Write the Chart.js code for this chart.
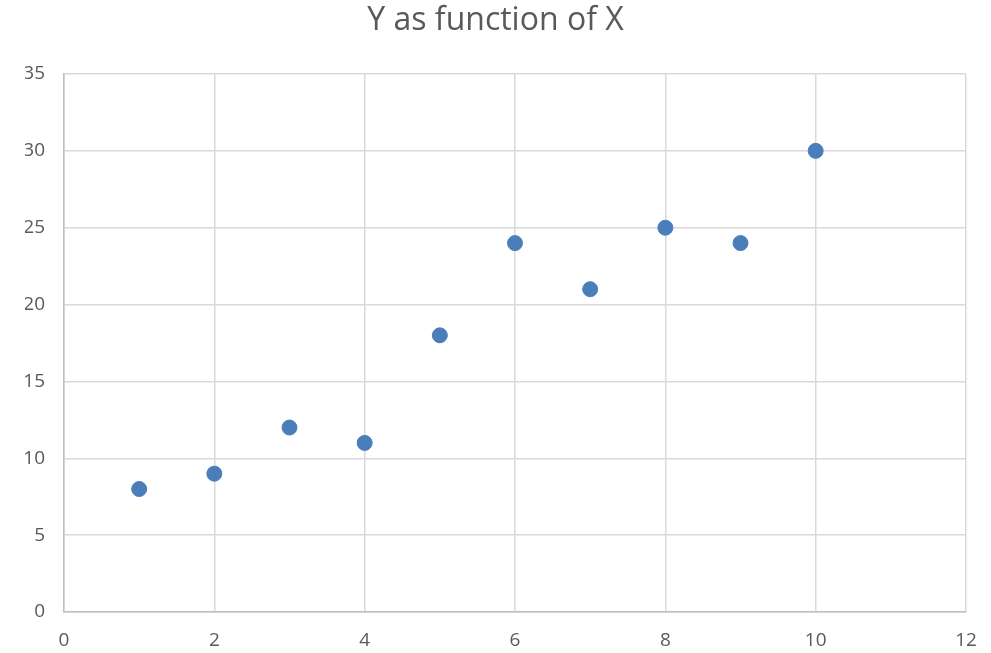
<!DOCTYPE html>
<html>
<head>
<meta charset="utf-8">
<script src="https://cdn.jsdelivr.net/npm/chart.js@4"></script>
<style>
  html, body { margin: 0; padding: 0; background: #ffffff; }
  #wrap { width: 991px; height: 653px; }
</style>
</head>
<body>
<div id="wrap"><canvas id="c" width="991" height="653"></canvas></div>
<script>
const xValues = [1, 2, 3, 4, 5, 6, 7, 8, 9, 10];
const yValues = [8, 9, 12, 11, 18, 24, 21, 25, 24, 30];
const titleText = 'Y as function of X';

const points = xValues.map((x, i) => ({ x: x, y: yValues[i] }));
const textColor = '#595959';
const fontFamily = "'Open Sans', 'Noto Sans', sans-serif";

new Chart(document.getElementById('c'), {
  type: 'scatter',
  data: {
    datasets: [{
      data: points,
      backgroundColor: '#4a7ebb',
      borderColor: '#4a7ebb',
      pointRadius: 7.5,
      pointHoverRadius: 7.5
    }]
  },
  options: {
    responsive: false,
    animation: false,
    layout: { padding: { left: 25, right: 25, top: 0, bottom: 0 } },
    plugins: {
      legend: { display: false },
      tooltip: { enabled: false },
      title: {
        display: true,
        text: titleText,
        color: textColor,
        font: { family: fontFamily, size: 32, weight: 'normal' },
        padding: { top: 2, bottom: 33.6 }
      }
    },
    scales: {
      x: {
        type: 'linear',
        min: 0,
        max: 12,
        ticks: {
          stepSize: 2,
          color: textColor,
          font: { family: fontFamily, size: 19 },
          padding: 17
        },
        grid: { color: '#d9d9d9', lineWidth: 1.5, drawTicks: false },
        border: { color: '#bfbfbf', width: 1.5 },
        afterFit: (s) => {
          s.height = 41;
          s.paddingLeft = 0;
          s.paddingRight = 0;
        }
      },
      y: {
        min: 0,
        max: 35,
        ticks: {
          stepSize: 5,
          color: textColor,
          font: { family: fontFamily, size: 19 },
          padding: 19
        },
        grid: { color: '#d9d9d9', lineWidth: 1.5, drawTicks: false },
        border: { color: '#bfbfbf', width: 1.5 },
        afterFit: (s) => {
          s.width = 39;
          s.paddingTop = 0;
          s.paddingBottom = 0;
        }
      }
    }
  }
});
</script>
</body>
</html>
